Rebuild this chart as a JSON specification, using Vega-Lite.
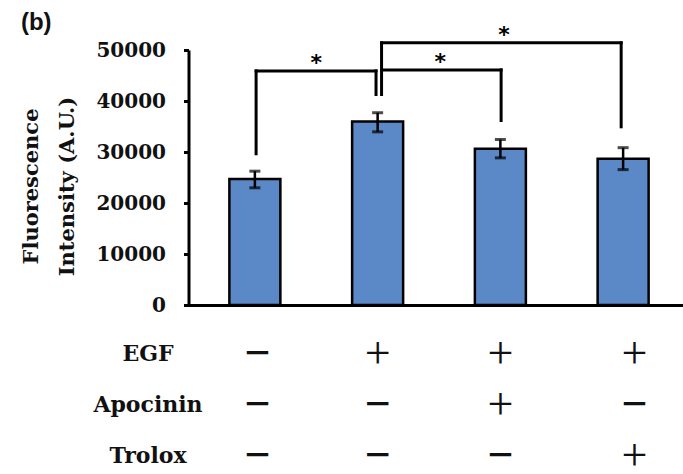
{
  "$schema": "https://vega.github.io/schema/vega-lite/v6.json",
  "background": "white",
  "padding": {"left": 20.5, "top": 11, "right": 0, "bottom": 0},
  "title": {"text": "(b)", "anchor": "start", "frame": "bounds", "font": "Liberation Sans", "fontSize": 24, "fontWeight": "bold", "color": "#111", "offset": -11.5},
  "spacing": 13.5,
  "config": {
    "view": {"stroke": null},
    "axis": {"grid": false},
    "axisY": {"domainColor": "#000", "domainWidth": 3, "tickColor": "#000", "tickWidth": 3, "tickSize": 5,
      "labelFont": "DejaVu Serif", "labelFontWeight": "bold", "labelFontSize": 20, "labelColor": "#111", "labelPadding": 18,
      "titleFont": "DejaVu Serif", "titleFontWeight": "bold", "titleFontSize": 21, "titleColor": "#111", "titleLineHeight": 36, "titlePadding": 18},
    "axisX": {"labels": false, "ticks": false, "domain": true, "domainColor": "#000", "domainWidth": 3}
  },
  "datasets": {
    "bars": [
      {"condition": "Control", "col": 1, "value": 24700, "lo": 22980, "hi": 26240},
      {"condition": "EGF", "col": 2, "value": 36000, "lo": 33950, "hi": 37700},
      {"condition": "EGF + Apocinin", "col": 3, "value": 30650, "lo": 28850, "hi": 32450},
      {"condition": "EGF + Trolox", "col": 4, "value": 28700, "lo": 26550, "hi": 30850}
    ],
    "brackets": [
      {"from": 1.01, "to": 1.987, "y": 45900, "mid": 1.5, "label": "*"},
      {"from": 2.032, "to": 3.006, "y": 46100, "mid": 2.51, "label": "*"},
      {"from": 2.032, "to": 3.984, "y": 51400, "mid": 3.03, "label": "*"}
    ],
    "legs": [
      {"x": 1.01, "lo": 29650, "hi": 45900},
      {"x": 1.987, "lo": 41270, "hi": 45900},
      {"x": 2.032, "lo": 41270, "hi": 51400},
      {"x": 3.006, "lo": 36180, "hi": 46100},
      {"x": 3.984, "lo": 34940, "hi": 51400}
    ],
    "table": [
      {"factor": "EGF", "col": 1.05, "sign": "−"},
      {"factor": "EGF", "col": 2.01, "sign": "+"},
      {"factor": "EGF", "col": 2.99, "sign": "+"},
      {"factor": "EGF", "col": 4.06, "sign": "+"},
      {"factor": "Apocinin", "col": 1.05, "sign": "−"},
      {"factor": "Apocinin", "col": 2.01, "sign": "−"},
      {"factor": "Apocinin", "col": 2.99, "sign": "+"},
      {"factor": "Apocinin", "col": 4.06, "sign": "−"},
      {"factor": "Trolox", "col": 1.05, "sign": "−"},
      {"factor": "Trolox", "col": 2.01, "sign": "−"},
      {"factor": "Trolox", "col": 2.99, "sign": "−"},
      {"factor": "Trolox", "col": 4.06, "sign": "+"}
    ]
  },
  "vconcat": [
    {
      "width": 501,
      "height": 255,
      "layer": [
        {
          "data": {"name": "bars"},
          "mark": {"type": "bar", "size": 51, "fill": "#5B88C7", "stroke": "#000", "strokeWidth": 2.5},
          "encoding": {
            "x": {"field": "col", "type": "quantitative", "scale": {"domain": [0.5, 4.5], "nice": false, "zero": false},
              "axis": {"title": null}},
            "y": {"field": "value", "type": "quantitative", "scale": {"domain": [0, 50000], "nice": false},
              "axis": {"title": ["Fluorescence", "Intensity (A.U.)"], "values": [0, 10000, 20000, 30000, 40000, 50000], "format": "d", "titleY": 136}}
          }
        },
        {
          "data": {"name": "bars"},
          "mark": {"type": "rule", "stroke": "#000", "strokeWidth": 2.5},
          "encoding": {
            "x": {"field": "col", "type": "quantitative"},
            "y": {"field": "lo", "type": "quantitative"},
            "y2": {"field": "hi"}
          }
        },
        {
          "data": {"name": "bars"},
          "mark": {"type": "tick", "orient": "horizontal", "size": 11, "thickness": 3, "color": "#000"},
          "encoding": {
            "x": {"field": "col", "type": "quantitative"},
            "y": {"field": "lo", "type": "quantitative"}
          }
        },
        {
          "data": {"name": "bars"},
          "mark": {"type": "tick", "orient": "horizontal", "size": 11, "thickness": 3, "color": "#000"},
          "encoding": {
            "x": {"field": "col", "type": "quantitative"},
            "y": {"field": "hi", "type": "quantitative"}
          }
        },
        {
          "data": {"name": "legs"},
          "mark": {"type": "rule", "stroke": "#000", "strokeWidth": 3, "strokeCap": "square"},
          "encoding": {
            "x": {"field": "x", "type": "quantitative"},
            "y": {"field": "lo", "type": "quantitative"},
            "y2": {"field": "hi"}
          }
        },
        {
          "data": {"name": "brackets"},
          "mark": {"type": "rule", "stroke": "#000", "strokeWidth": 3, "strokeCap": "square"},
          "encoding": {
            "x": {"field": "from", "type": "quantitative"},
            "x2": {"field": "to"},
            "y": {"field": "y", "type": "quantitative"}
          }
        },
        {
          "data": {"name": "brackets"},
          "mark": {"type": "text", "font": "DejaVu Sans", "fontWeight": "bold", "fontSize": 22, "baseline": "alphabetic", "align": "center", "dy": -1, "color": "#000"},
          "encoding": {
            "x": {"field": "mid", "type": "quantitative"},
            "y": {"field": "y", "type": "quantitative"},
            "text": {"field": "label"}
          }
        }
      ]
    },
    {
      "width": 501,
      "height": 153,
      "data": {"name": "table"},
      "encoding": {
        "x": {"field": "col", "type": "quantitative", "scale": {"domain": [0.5, 4.5], "nice": false, "zero": false}, "axis": null},
        "y": {"field": "factor", "type": "nominal", "sort": ["EGF", "Apocinin", "Trolox"], "scale": {"type": "band", "paddingInner": 0, "paddingOuter": 0},
          "axis": {"title": null, "domain": false, "ticks": false, "tickSize": 0, "labelAlign": "center", "labelBaseline": "middle", "labelPadding": 41,
            "labelFont": "DejaVu Serif", "labelFontWeight": "bold", "labelFontSize": 22, "labelColor": "#111"}},
        "text": {"field": "sign"}
      },
      "layer": [
        {
          "transform": [{"filter": "datum.sign === '+'"}],
          "mark": {"type": "text", "font": "Liberation Serif", "fontSize": 46, "baseline": "middle", "align": "center", "color": "#111"}
        },
        {
          "transform": [{"filter": "datum.sign !== '+'"}],
          "mark": {"type": "text", "font": "Liberation Serif", "fontWeight": "bold", "fontSize": 46, "baseline": "middle", "align": "center", "color": "#111"}
        }
      ]
    }
  ]
}
